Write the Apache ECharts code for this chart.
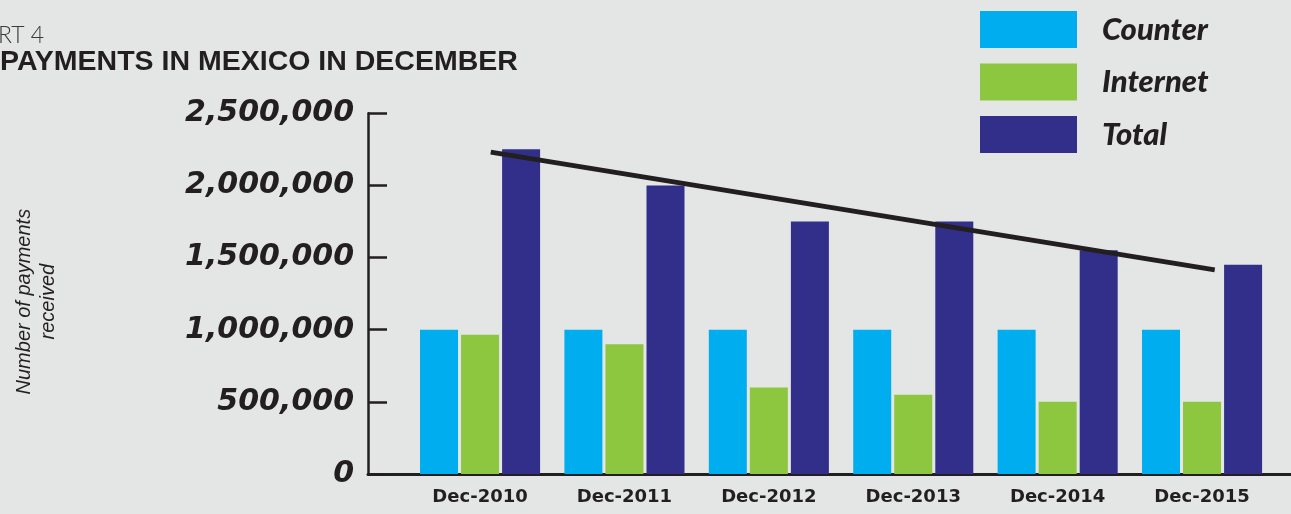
<!DOCTYPE html>
<html>
<head>
<meta charset="utf-8">
<style>
  html, body { margin: 0; padding: 0; background: #e4e6e5; }
  #chart { width: 1291px; height: 514px; }
</style>
<script src="https://cdn.jsdelivr.net/npm/echarts@6/dist/echarts.min.js"></script>
</head>
<body>
<div id="chart"></div>
<script>
// categories + series values
const categories = ['Dec-2010', 'Dec-2011', 'Dec-2012', 'Dec-2013', 'Dec-2014', 'Dec-2015']
const counter = [1000000, 1000000, 1000000, 1000000, 1000000, 1000000]
const internet = [965000, 900000, 600000, 550000, 500000, 500000]
const total = [2250000, 2000000, 1750000, 1750000, 1550000, 1450000]
// trend line end points (x in category index units)
const trendX = [0.074, 5.088]
const trendY = [2231000, 1415000]

const ink = '#231f20'
const chart = echarts.init(document.getElementById('chart'))

const toPairs = (arr) => arr.map((v, i) => [i, v])

chart.setOption({
  backgroundColor: '#e4e6e5',
  animation: false,
  title: [
    {
      text: 'RT 4',
      left: -2,
      top: 24,
      padding: 0,
      textStyle: { fontFamily: 'Lato', fontWeight: 300, fontSize: 23, color: '#3a3a3a' }
    },
    {
      text: 'PAYMENTS IN MEXICO IN DECEMBER',
      left: 0,
      top: 48,
      padding: 0,
      textStyle: { fontFamily: 'Liberation Sans', fontWeight: 'bold', fontSize: 28.5, color: ink }
    }
  ],
  legend: {
    data: ['Counter', 'Internet', 'Total'],
    orient: 'vertical',
    left: 980,
    top: 11,
    padding: 0,
    itemWidth: 97,
    itemHeight: 37,
    itemGap: 15.5,
    icon: 'rect',
    selectedMode: false,
    textStyle: {
      fontFamily: 'Lato',
      fontStyle: 'italic',
      fontWeight: 900,
      fontSize: 31,
      color: ink,
      padding: [0, 0, 0, 20]
    }
  },
  grid: {
    left: 368,
    right: 0,
    top: 113.3,
    bottom: 40
  },
  xAxis: {
    type: 'value',
    min: -0.776,
    max: 5.616,
    splitLine: { show: false },
    axisTick: { show: false },
    axisLine: { show: true, onZero: false, lineStyle: { color: ink, width: 3 } },
    axisLabel: {
      customValues: categories.map((c, i) => i),
      formatter: (v) => categories[Math.round(v)] || '',
      margin: 14,
      fontFamily: 'DejaVu Sans',
      fontWeight: 'bold',
      fontSize: 18,
      color: ink
    }
  },
  yAxis: {
    type: 'value',
    min: 0,
    max: 2500000,
    interval: 500000,
    name: 'Number of payments\nreceived',
    nameLocation: 'middle',
    nameGap: 308,
    nameRotate: 90,
    nameTextStyle: {
      fontFamily: 'Liberation Sans',
      fontStyle: 'italic',
      fontSize: 20,
      lineHeight: 24,
      color: ink,
      padding: [0, 16, 0, 0]
    },
    splitLine: { show: false },
    axisLine: { show: true, onZero: false, lineStyle: { color: ink, width: 2.5 } },
    axisTick: { show: true, inside: true, length: 19, lineStyle: { color: ink, width: 2.5 } },
    axisLabel: {
      margin: 14,
      formatter: (v) => v.toLocaleString('en-US'),
      fontFamily: 'DejaVu Sans',
      fontStyle: 'italic',
      fontWeight: 'bold',
      fontSize: 30,
      color: ink
    }
  },
  series: [
    {
      name: 'Counter',
      type: 'bar',
      barWidth: 38,
      barGap: '8%',
      itemStyle: { color: '#00aeef' },
      data: toPairs(counter)
    },
    {
      name: 'Internet',
      type: 'bar',
      barWidth: 38,
      barGap: '8%',
      itemStyle: { color: '#8dc63f' },
      data: toPairs(internet)
    },
    {
      name: 'Total',
      type: 'bar',
      barWidth: 38,
      barGap: '8%',
      itemStyle: { color: '#322f8a' },
      data: toPairs(total)
    },
    {
      name: 'Trend',
      type: 'line',
      symbol: 'none',
      z: 5,
      lineStyle: { color: ink, width: 5 },
      data: trendX.map((x, i) => [x, trendY[i]])
    }
  ]
})
</script>
</body>
</html>
